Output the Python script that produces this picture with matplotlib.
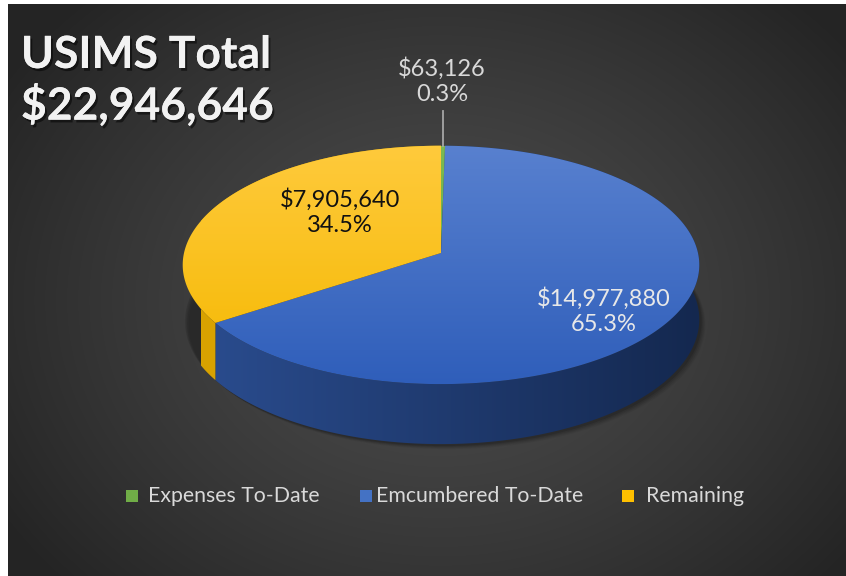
import numpy as np
import matplotlib
matplotlib.use("Agg")
import matplotlib.pyplot as plt
from matplotlib.patches import Polygon, Rectangle
from matplotlib.colors import to_rgb
import matplotlib.patheffects as pe

# ---------------- data ----------------
categories = ["Expenses To-Date", "Emcumbered To-Date", "Remaining"]
values = [63126, 14977880, 7905640]
value_labels = ["$63,126", "$14,977,880", "$7,905,640"]
pct_labels = ["0.3%", "65.3%", "34.5%"]
title_lines = ["USIMS Total", "$22,946,646"]

# ---------------- style ----------------
top_colors = [("#7CBB52", "#6AA83E"), ("#5A82D0", "#2F5EBA"), ("#FFCB3F", "#F5B800")]
wall_colors = [("#4E7F2E", "#3E6A22"), ("#2A4C8E", "#14284F"), ("#D9A300", "#B88A00")]
label_colors = ["#D9D9D9", "#E8E8E8", "#111111"]
legend_colors = ["#70AD47", "#4472C4", "#FFC000"]
FONT = "Lato"

W, H = 846, 576
fig = plt.figure(figsize=(W / 100, H / 100), dpi=100)
fig.patch.set_facecolor("white")
ax = fig.add_axes([0, 0, 1, 1])
ax.set_xlim(0, W)
ax.set_ylim(H, 0)
ax.axis("off")

# background radial gradient
bx0, bx1, by0, by1 = 8, W, 4, H
yy, xx = np.mgrid[by0:by1, bx0:bx1]
r = np.sqrt(((xx - 440) / 520.0) ** 2 + ((yy - 300) / 420.0) ** 2)
r = np.clip(r, 0, 1)
c_in = np.array(to_rgb("#4C4C4C"))
c_out = np.array(to_rgb("#242424"))
bg = c_in[None, None, :] * (1 - r[..., None] ** 1.3) + c_out[None, None, :] * (r[..., None] ** 1.3)
ax.imshow(bg, extent=(bx0, bx1, by1, by0), origin="upper", zorder=0, interpolation="bilinear")

# ---------------- 3D pie geometry ----------------
cx, cy = 441, 253
A, B = 257, 118
D = 54
k = 0.1


def proj(theta, z):
    u = np.sin(theta)
    w = -np.cos(theta)
    p = 1.0 / (1.0 - k * w)
    return cx + A * u * p, cy + B * w * p + D * z * p


def grad_fill(patch, c0, c1, direction, zorder, lo, hi):
    ax.add_patch(patch)
    patch.set_facecolor("none")
    patch.set_edgecolor("none")
    n = 256
    t = np.linspace(0, 1, n)
    a = np.array(to_rgb(c0))
    b = np.array(to_rgb(c1))
    cols = a[None, :] * (1 - t[:, None]) + b[None, :] * t[:, None]
    if direction == "v":
        img = cols[:, None, :]
        ext = (cx - 300, cx + 300, hi, lo)
    else:
        img = cols[None, :, :]
        ext = (lo, hi, 500, 100)
    im = ax.imshow(img, extent=ext, origin="upper", zorder=zorder, interpolation="bilinear", aspect="auto")
    im.set_clip_path(patch)


total = float(sum(values))
fracs = [v / total for v in values]
starts = np.cumsum([0] + fracs[:-1]) * 2 * np.pi
ends = np.cumsum(fracs) * 2 * np.pi

# shadow
th = np.linspace(0, 2 * np.pi, 400)
for off, al in [(10, 0.05), (8, 0.07), (6, 0.09), (4, 0.12)]:
    sx, sy = proj(th, 1)
    ax.add_patch(Polygon(np.column_stack([sx + off * 0.6, sy + off * 0.5]), closed=True,
                         facecolor="black", edgecolor="none", alpha=al, zorder=1))

# walls
for i in range(len(values)):
    t = np.linspace(starts[i], ends[i], 200)
    x0, y0 = proj(t, 0)
    x1, y1 = proj(t, 1)
    poly = np.column_stack([np.concatenate([x0, x1[::-1]]), np.concatenate([y0, y1[::-1]])])
    patch = Polygon(poly, closed=True)
    grad_fill(patch, wall_colors[i][0], wall_colors[i][1], "h", 2, cx - 240, cx + 260)

# top faces
for i in range(len(values)):
    t = np.linspace(starts[i], ends[i], 300)
    x0, y0 = proj(t, 0)
    poly = np.column_stack([np.concatenate([[cx], x0]), np.concatenate([[cy], y0])])
    patch = Polygon(poly, closed=True)
    grad_fill(patch, top_colors[i][0], top_colors[i][1], "v", 3, cy - B, cy + B * 1.12)

# ---------------- labels ----------------
label_pos = [(442, 81), (604, 311), (340, 212)]
for i in range(len(values)):
    lx, ly = label_pos[i]
    ax.text(lx, ly, value_labels[i] + "\n" + pct_labels[i], ha="center", va="center",
            fontsize=17, family=FONT, color=label_colors[i], linespacing=1.2, zorder=5)

# leader line for tiny slice
gx, gy = proj((starts[0] + ends[0]) / 2, 0)
ax.plot([gx, gx], [111, gy], color="#A6A6A6", lw=1.3, zorder=4)

# title
shadow = [pe.withSimplePatchShadow(offset=(1.5, -2), shadow_rgbFace="black", alpha=0.5), pe.Normal()]
ax.text(21, 55, title_lines[0], ha="left", va="center", fontsize=32, fontweight="bold",
        family=FONT, color="#F2F2F2", zorder=6, path_effects=shadow)
ax.text(21, 105, title_lines[1], ha="left", va="center", fontsize=32, fontweight="bold",
        family=FONT, color="#F2F2F2", zorder=6, path_effects=shadow)

# legend
leg_sq_x = [126, 360, 622]
leg_tx_x = [148, 376, 646]
ly = 496
for i in range(len(categories)):
    ax.add_patch(Rectangle((leg_sq_x[i], ly - 6), 12, 12, facecolor=legend_colors[i], edgecolor="none", zorder=5))
    ax.text(leg_tx_x[i], ly, categories[i], ha="left", va="center", fontsize=15.3,
            family=FONT, color="#D9D9D9", zorder=5)

fig.savefig("out.png", dpi=100, facecolor=fig.get_facecolor())
